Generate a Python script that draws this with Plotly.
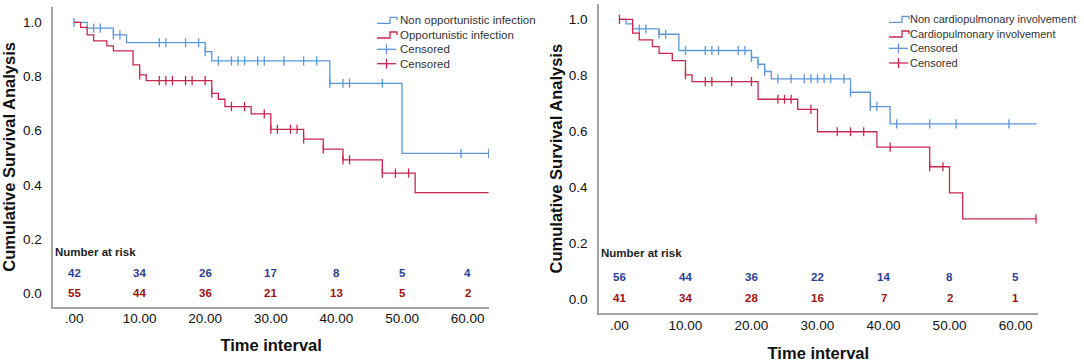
import plotly.graph_objects as go

# ---------------- data ----------------
# Left panel: opportunistic infection
L_nonOI_times = [2, 6, 8, 20, 21, 39, 50]
L_nonOI_surv = [0.979, 0.954, 0.925, 0.892, 0.858, 0.775, 0.516]
L_nonOI_cens = [0, 3, 4, 6, 7, 13, 14, 17, 19, 20, 22, 24, 25, 26, 28, 29, 32, 35, 37,
                39, 41, 42, 47, 59, 63.2]
L_OI_times = [1, 2, 3, 5, 6, 9, 10, 11, 21, 22, 23, 27, 30, 35, 38, 41, 47, 52]
L_OI_surv = [0.982, 0.954, 0.932, 0.913, 0.895, 0.843, 0.806, 0.785, 0.738, 0.716,
             0.689, 0.662, 0.605, 0.569, 0.532, 0.492, 0.443, 0.371]
L_OI_cens = [10, 13, 14, 15, 17, 18, 20, 21, 24, 26, 29, 30, 31, 33, 34, 35, 38, 41, 42,
             47, 49, 51]

# Right panel: cardiopulmonary involvement
R_nonCP_times = [1, 2, 6, 9, 20, 21, 22, 23, 35, 38, 41]
R_nonCP_surv = [0.984, 0.966, 0.947, 0.889, 0.864, 0.840, 0.814, 0.788, 0.740, 0.689, 0.627]
R_nonCP_cens = [3, 4, 6, 7, 10, 13, 14, 15, 18, 19, 20, 21, 22, 24, 26, 28, 29, 30, 31, 32,
                34, 35, 38, 39, 42, 47, 51, 59]
R_CP_times = [2, 3, 5, 6, 8, 10, 11, 21, 27, 30, 39, 47, 50, 52]
R_CP_surv = [0.951, 0.927, 0.903, 0.879, 0.853, 0.802, 0.778, 0.715, 0.679, 0.599,
             0.544, 0.474, 0.381, 0.288]
R_CP_cens = [0, 10, 13, 14, 17, 20, 24, 25, 26, 29, 33, 35, 37, 41, 47, 49, 63.1]

END_TIME = 63.2

# Number at risk
risk_times = [0, 10, 20, 30, 40, 50, 60]
L_risk_nonOI = [42, 34, 26, 17, 8, 5, 4]
L_risk_OI = [55, 44, 36, 21, 13, 5, 2]
R_risk_nonCP = [56, 44, 36, 22, 14, 8, 5]
R_risk_CP = [41, 34, 28, 16, 7, 2, 1]

# Tick labels
x_tick_text = [".00", "10.00", "20.00", "30.00", "40.00", "50.00", "60.00"]
y_tick_vals = [0.0, 0.2, 0.4, 0.6, 0.8, 1.0]
y_tick_text = ["0.0", "0.2", "0.4", "0.6", "0.8", "1.0"]

L_legend = ["Non opportunistic infection", "Opportunistic infection", "Censored", "Censored"]
R_legend = ["Non cardiopulmonary involvement", "Cardiopulmonary involvement", "Censored", "Censored"]

# ---------------- styling ----------------
W, H = 1084, 362
BLUE = "#5b97d9"
RED = "#c9274f"
BLUE_TXT = "#2c3f98"
RED_TXT = "#9a1212"
AXC = "#a3a3a3"
TXT = "#111111"
FONT = "Liberation Sans, Arial, sans-serif"


def px(x):
    return x / W


def py(y):
    return 1 - y / H


def step_xy(times, surv, end):
    return [0] + list(times) + [end], [1.0] + list(surv) + [surv[-1]]


def surv_at(t, times, surv):
    s = 1.0
    for ti, si in zip(times, surv):
        if ti <= t:
            s = si
    return s


fig = go.Figure()


def add_curve(times, surv, cens, color, xa, ya, name):
    xs, ys = step_xy(times, surv, END_TIME)
    fig.add_trace(go.Scatter(x=xs, y=ys, mode="lines", line=dict(color=color, width=1.3, shape="hv"),
                             xaxis=xa, yaxis=ya, showlegend=False, name=name, hoverinfo="skip"))
    fig.add_trace(go.Scatter(x=cens, y=[surv_at(t, times, surv) for t in cens], mode="markers",
                             marker=dict(symbol="line-ns-open", size=6.5, color=color,
                                         line=dict(color=color, width=1.3)),
                             xaxis=xa, yaxis=ya, showlegend=False, name="Censored", hoverinfo="skip"))


add_curve(L_nonOI_times, L_nonOI_surv, L_nonOI_cens, BLUE, "x", "y", L_legend[0])
add_curve(L_OI_times, L_OI_surv, L_OI_cens, RED, "x", "y", L_legend[1])
add_curve(R_nonCP_times, R_nonCP_surv, R_nonCP_cens, BLUE, "x2", "y2", R_legend[0])
add_curve(R_CP_times, R_CP_surv, R_CP_cens, RED, "x2", "y2", R_legend[1])

annotations = []
shapes = []


def risk_rows(xref, yref, top_vals, bot_vals, y_top, y_bot, y_label):
    for t, a, b in zip(risk_times, top_vals, bot_vals):
        annotations.append(dict(x=t, y=y_top, xref=xref, yref=yref, text=str(a), showarrow=False,
                                font=dict(family=FONT, size=11.5, color=BLUE_TXT, weight="bold"),
                                xanchor="center", yanchor="middle"))
        annotations.append(dict(x=t, y=y_bot, xref=xref, yref=yref, text=str(b), showarrow=False,
                                font=dict(family=FONT, size=11.5, color=RED_TXT, weight="bold"),
                                xanchor="center", yanchor="middle"))
    annotations.append(dict(x=0.0, y=y_label, xref=xref + " domain", yref=yref, text="Number at risk",
                            showarrow=False, font=dict(family=FONT, size=11.5, color="#1e1e1e", weight="bold"),
                            xanchor="left", yanchor="middle"))


risk_rows("x", "y", L_risk_nonOI, L_risk_OI, 0.073, 0.0, 0.153)
risk_rows("x2", "y2", R_risk_nonCP, R_risk_CP, 0.079, 0.004, 0.165)


def legend_block(labels, x0, text_x, rows, fsize):
    colors = [BLUE, RED, BLUE, RED]
    for i, (lab, col, yc) in enumerate(zip(labels, colors, rows)):
        if i < 2:
            path = (f"M {px(x0)},{py(yc + 3)} L {px(x0 + 13)},{py(yc + 3)} L {px(x0 + 13)},{py(yc - 3)} "
                    f"L {px(x0 + 20)},{py(yc - 3)} L {px(x0 + 20)},{py(yc)}")
            shapes.append(dict(type="path", path=path, xref="paper", yref="paper",
                               line=dict(color=col, width=1.3)))
        else:
            shapes.append(dict(type="line", x0=px(x0), x1=px(x0 + 19), y0=py(yc), y1=py(yc),
                               xref="paper", yref="paper", line=dict(color=col, width=1.3)))
            shapes.append(dict(type="line", x0=px(x0 + 9.5), x1=px(x0 + 9.5), y0=py(yc - 5), y1=py(yc + 5),
                               xref="paper", yref="paper", line=dict(color=col, width=1.3)))
        annotations.append(dict(x=px(text_x), y=py(yc), xref="paper", yref="paper", text=lab,
                                showarrow=False, xanchor="left", yanchor="middle",
                                font=dict(family=FONT, size=fsize, color="#333333")))


legend_block(L_legend, 377, 398, [20.3, 35.0, 49.3, 63.7], 11.5)
legend_block(R_legend, 889, 908, [19.3, 34.0, 48.3, 63.0], 11.0)

axis_common = dict(showline=True, linecolor=AXC, linewidth=1.5, showgrid=False, zeroline=False,
                   ticks="", tickfont=dict(family=FONT, size=13.5, color=TXT))

fig.update_layout(
    width=W, height=H, autosize=False,
    margin=dict(l=0, r=0, t=0, b=0),
    paper_bgcolor="white", plot_bgcolor="white",
    showlegend=False,
    xaxis=dict(domain=[px(53.3), px(489)], range=[-3.16, 63.26], anchor="y",
               tickvals=risk_times, ticktext=x_tick_text, ticklabelstandoff=-2,
               title=dict(text="Time interval", standoff=15,
                          font=dict(family=FONT, size=16.5, color=TXT, weight="bold")),
               **axis_common),
    yaxis=dict(domain=[py(306.7), py(7)], range=[-0.0506, 1.057], anchor="x",
               tickvals=y_tick_vals, ticktext=y_tick_text, ticklabelstandoff=7,
               title=dict(text="Cumulative Survival Analysis", standoff=4,
                          font=dict(family=FONT, size=16.5, color=TXT, weight="bold")),
               **axis_common),
    xaxis2=dict(domain=[px(599), px(1037.7)], range=[-3.1, 63.36], anchor="y2",
                tickvals=risk_times, ticktext=x_tick_text, ticklabelstandoff=-1,
                title=dict(text="Time interval", standoff=15,
                           font=dict(family=FONT, size=16.5, color=TXT, weight="bold")),
                **axis_common),
    yaxis2=dict(domain=[py(313.3), py(4)], range=[-0.049, 1.055], anchor="x2",
                tickvals=y_tick_vals, ticktext=y_tick_text, ticklabelstandoff=7,
                title=dict(text="Cumulative Survival Analysis", standoff=2,
                           font=dict(family=FONT, size=16.5, color=TXT, weight="bold")),
                **axis_common),
    annotations=annotations,
    shapes=shapes,
)

fig.write_html("out.html", config={"displayModeBar": False},
               post_script="document.body.style.margin='0';")
